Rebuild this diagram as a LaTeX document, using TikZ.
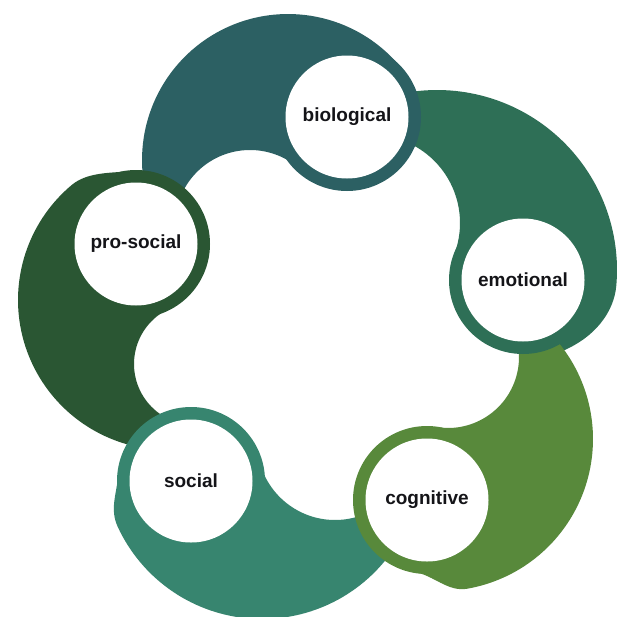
\documentclass[tikz,border=0pt]{standalone}
\usepackage{fontspec}
\setmainfont{Liberation Sans}
\definecolor{cbio}{RGB}{44,96,99}
\definecolor{cemo}{RGB}{46,111,86}
\definecolor{ccog}{RGB}{88,137,59}
\definecolor{csoc}{RGB}{55,133,111}
\definecolor{cpro}{RGB}{42,86,51}
\definecolor{txt}{RGB}{20,20,24}
\begin{document}
\begin{tikzpicture}[x=1pt,y=-1pt,
  ring/.style={circle, minimum size=148pt, inner sep=0pt, fill=#1},
  disc/.style={circle, minimum size=123pt, inner sep=0pt, fill=white, text=txt,
    font=\fontsize{19}{22}\selectfont\bfseries},
  tail/.style={fill=#1},
  arcplot/.style={domain=0:1, samples=70, variable=\t}]
\useasboundingbox (0,0) rectangle (621,616);
\fill[white] (0,0) rectangle (621,616);
% ---- tails (rings drawn later cover their ends)
% biological tail: from biological back to pro-social
\fill[tail=cbio] (406,74)
  -- plot[arcplot] ({288+146*cos(-36-164*\t)},{160+146*sin(-36-164*\t)})
  -- plot[arcplot] ({250+75*cos(200+112*\t)},{225+75*sin(200+112*\t)})
  -- (315,178) -- cycle;
% emotional tail: from emotional back to biological
\fill[tail=cemo] (548,340) -- (560,352) .. controls (595,338) and (614,312) .. (616.3,285.7)
  -- plot[arcplot] ({437+180*cos(5-110*\t)},{270+180*sin(5-110*\t)})
  -- plot[arcplot] ({372+88*cos(-100+120*\t)},{223+88*sin(-100+120*\t)})
  -- (470,262) -- cycle;
% social tail: from social back to cognitive
\fill[tail=csoc] (118.3,474.6) .. controls (116.6,494.5) and (109.4,509.1) .. (117.9,527.2)
  -- plot[arcplot] ({262+159*cos(155-127*\t)},{460+159*sin(155-127*\t)})
  -- plot[arcplot] ({335+78*cos(35+130*\t)},{442+78*sin(35+130*\t)})
  -- (250,470) -- cycle;
% pro-social tail: from pro-social back to social
\fill[tail=cpro] (129.6,171.3) .. controls (109.7,173) and (86.9,172.2) .. (71.6,185.1)
  -- plot[arcplot] ({168+150*cos(230-130*\t)},{300+150*sin(230-130*\t)})
  -- plot[arcplot] ({195+61*cos(90+150*\t)},{364+61*sin(90+150*\t)})
  -- (150,300) -- cycle;
% cognitive tail: from cognitive back to emotional
\fill[tail=ccog] (414.3,571.9) .. controls (434,575.4) and (447.7,592.2) .. (467.4,588.7)
  -- plot[arcplot] ({441+152*cos(80-122*\t)},{439+152*sin(80-122*\t)})
  -- plot[arcplot] ({448+71*cos(-40+140*\t)},{357+71*sin(-40+140*\t)})
  -- (425,440) -- cycle;
% ---- rings
\node[ring=cbio] (biorng) at (347,117) {};
\node[ring=cemo] (emorng) at (523,280) {};
\node[ring=ccog] (cogrng) at (427,500) {};
\node[ring=csoc] (socrng) at (191,481) {};
\node[ring=cpro] (prorng) at (136,244) {};
% ---- white discs with labels
\node[disc] (bio) at (347,117) {biological};
\node[disc] (emo) at (523,280) {emotional};
\node[disc] (cog) at (427,500) {cognitive};
\node[disc] (soc) at (191,481) {social};
\node[disc] (pro) at (136,244) {pro-social};
\end{tikzpicture}
\end{document}
